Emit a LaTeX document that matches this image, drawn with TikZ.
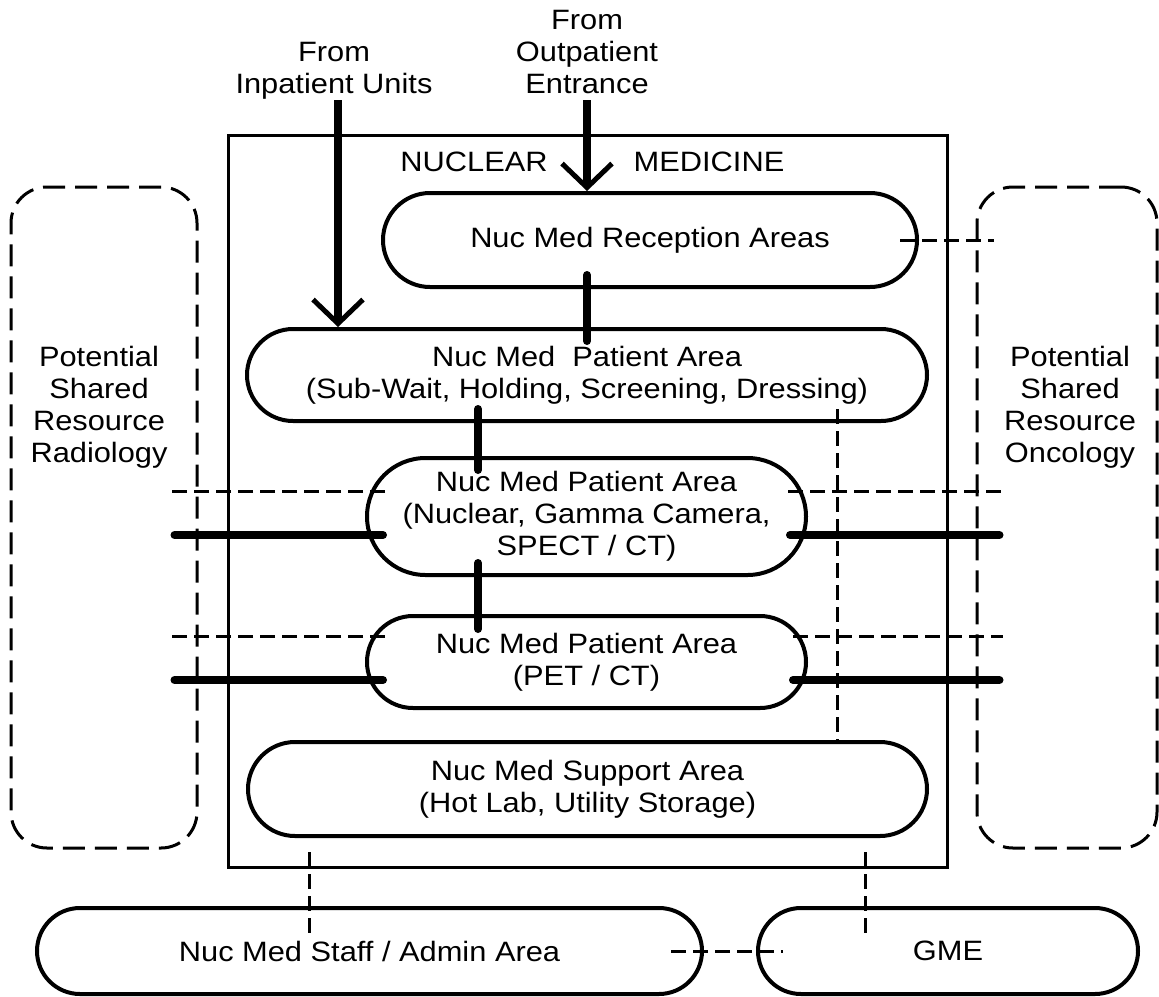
\documentclass[tikz,border=0pt]{standalone}
\usepackage{fontspec}
\setmainfont{Liberation Sans}[FakeStretch=1.1]
\usetikzlibrary{arrows.meta}

\begin{document}
\begin{tikzpicture}[x=1pt,y=-1pt,font=\fontsize{28}{32}\selectfont,
  area/.style 2 args={draw,line width=4pt,align=center,inner sep=0pt,minimum width=#1,minimum height=#2,rounded corners=#2/2},
  shared/.style={draw,line width=3pt,dash pattern=on 22pt off 10pt,rounded corners=36pt,minimum height=661pt,inner sep=0pt},
  link/.style={line width=8pt,line cap=round},
  share/.style={line width=3pt,dash pattern=on 15pt off 7pt},
  flow/.style={line width=8pt,-{Straight Barb[length=24pt,width=50pt,line width=5pt]}}]
\useasboundingbox (0,0) rectangle (1159,996);
\draw[line width=3pt] (228,135) rectangle (947,867);
\node (nuc) at (474,162) {NUCLEAR};
\node (med) at (709,162) {MEDICINE};
\node[shared,minimum width=186pt] (rad) at (104,517.5) {};
\node[shared,minimum width=180pt] (onc) at (1067,517.5) {};
\node[align=center] (radt) at (99,407) {Potential\\Shared\\Resource\\Radiology};
\node[align=center] (onct) at (1070,407) {Potential\\Shared\\Resource\\Oncology};
\node[align=center] (inp) at (334,71) {From\\Inpatient Units};
\node[align=center] (outp) at (587,52) {From\\Outpatient\\Entrance};
\node[area={534pt}{94pt}] (rec) at (650,240) {Nuc Med Reception Areas};
\node[area={680pt}{92pt}] (pat) at (587,375) {Nuc Med\ \ Patient Area\\(Sub-Wait, Holding, Screening, Dressing)};
\node[area={439pt}{117pt}] (gam) at (586.5,516.5) {Nuc Med Patient Area\\(Nuclear, Gamma Camera,\\SPECT / CT)};
\node[area={439pt}{92pt}] (pet) at (586.5,662) {Nuc Med Patient Area\\(PET / CT)};
\node[area={679pt}{94pt}] (sup) at (587.5,789) {Nuc Med Support Area\\(Hot Lab, Utility Storage)};
\node[area={665pt}{86pt}] (stf) at (369.5,951) {Nuc Med Staff / Admin Area};
\node[area={380pt}{86pt}] (gme) at (948,951) {GME};
\coordinate (inpS) at (338,100);
\coordinate (outS) at (587,100);
\coordinate (lnk) at (478,0);
\coordinate (vx) at (837,0);
\coordinate (bx1) at (309,0);
\coordinate (bx2) at (865,0);
\coordinate (gamD) at (0,491);
\coordinate (gamT) at (0,535);
\coordinate (petD) at (0,636);
\coordinate (petT) at (0,680);
\draw[flow] (inpS) -- (inpS |- pat.north);
\draw[flow] (outS) -- (outS |- rec.north);
\draw[link,shorten <=-14pt,shorten >=-14pt] (rec.south -| outS) -- (pat.north -| outS);
\draw[link,shorten <=-14pt,shorten >=-14pt] (pat.south -| lnk) -- (gam.north -| lnk);
\draw[link,shorten <=-14pt,shorten >=-15pt] (gam.south -| lnk) -- (pet.north -| lnk);
\draw[share,shorten <=-19pt,shorten >=-18pt] (rec.east) -- (rec.east -| onc.west);
\draw[share,shorten <=-20pt,shorten >=-27pt] (gam.west |- gamD) -- (rad.east |- gamD);
\draw[share,shorten <=-20pt,shorten >=-27pt] (gam.east |- gamD) -- (onc.west |- gamD);
\draw[link,shorten <=-18pt,shorten >=-24pt] (gam.west |- gamT) -- (rad.east |- gamT);
\draw[link,shorten <=-18pt,shorten >=-24pt] (gam.east |- gamT) -- (onc.west |- gamT);
\draw[share,shorten <=-20pt,shorten >=-27pt] (pet.west |- petD) -- (rad.east |- petD);
\draw[share,shorten <=-15pt,shorten >=-27pt] (pet.east |- petD) -- (onc.west |- petD);
\draw[link,shorten <=-18pt,shorten >=-24pt] (pet.west |- petT) -- (rad.east |- petT);
\draw[link,shorten <=-15pt,shorten >=-24pt] (pet.east |- petT) -- (onc.west |- petT);
\draw[share,shorten <=-14pt] (pat.south -| vx) -- (sup.north -| vx);
\draw[share,shorten <=14pt,shorten >=-27pt] (sup.south -| bx1) -- (stf.north -| bx1);
\draw[share,shorten <=14pt,shorten >=-27pt] (sup.south -| bx2) -- (gme.north -| bx2);
\draw[share,shorten <=-33pt,shorten >=-27pt] (stf.east) -- (gme.west);
\end{tikzpicture}
\end{document}
